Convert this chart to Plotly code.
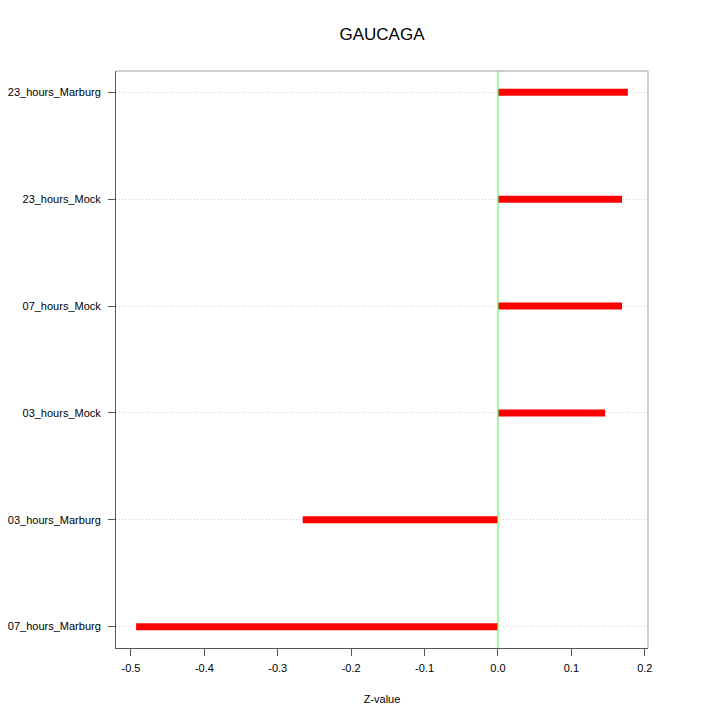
import plotly.graph_objects as go

categories = ["07_hours_Marburg", "03_hours_Marburg", "03_hours_Mock",
              "07_hours_Mock", "23_hours_Mock", "23_hours_Marburg"]
z_values = [-0.493, -0.266, 0.146, 0.169, 0.169, 0.177]
x_ticks = [-0.5, -0.4, -0.3, -0.2, -0.1, 0.0, 0.1, 0.2]
x_ticklabels = ["-0.5", "-0.4", "-0.3", "-0.2", "-0.1", "0.0", "0.1", "0.2"]

positions = list(range(1, len(categories) + 1))

xs, ys = [], []
for p, v in zip(positions, z_values):
    xs += [0, v, None]
    ys += [p, p, None]

fig = go.Figure()
fig.add_trace(go.Scatter(x=xs, y=ys, mode="lines",
                         line=dict(color="#ff0000", width=7),
                         hoverinfo="skip", showlegend=False))

font = "Liberation Sans, Arial, sans-serif"
W = H = 712
fig.update_layout(
    width=W, height=H,
    margin=dict(l=108, r=72, t=63, b=72, autoexpand=False),
    plot_bgcolor="white", paper_bgcolor="white",
    title=dict(text="GAUCAGA", xref="paper", x=0.5, xanchor="center", y=1 - 26 / H,
               yanchor="middle", font=dict(family=font, size=17, color="black")),
    font=dict(family=font, size=11, color="black"),
    showlegend=False,
    xaxis=dict(range=[-0.5204, 0.2044], tickvals=x_ticks, ticktext=x_ticklabels,
               showgrid=False, zeroline=False, automargin=False,
               showline=True, linecolor="#555555", linewidth=1,
               ticks="outside", ticklen=7, tickcolor="#555555",
               ticklabelstandoff=3,
               title=dict(text="Z-value", font=dict(size=11), standoff=22),
               layer="above traces"),
    yaxis=dict(range=[0.8, 6.2], tickvals=positions, ticktext=categories,
               showgrid=True, gridcolor="#cfcfcf", griddash="1px,2px", gridwidth=1,
               zeroline=False, showline=True, linecolor="#555555", linewidth=1,
               automargin=False,
               ticks="outside", ticklen=7, tickcolor="#555555",
               ticklabelstandoff=5,
               layer="above traces"),
)
fig.add_shape(type="line", xref="x", yref="paper", x0=0, x1=0, y0=0, y1=1,
              line=dict(color="#66ff66", width=1.3), layer="above")
fig.add_shape(type="line", xref="paper", yref="paper", x0=0, x1=1, y0=1, y1=1,
              line=dict(color="#a0a0a0", width=1))
fig.add_shape(type="line", xref="paper", yref="paper", x0=1, x1=1, y0=0, y1=1,
              line=dict(color="#a0a0a0", width=1))

fig.write_html("out.html")
